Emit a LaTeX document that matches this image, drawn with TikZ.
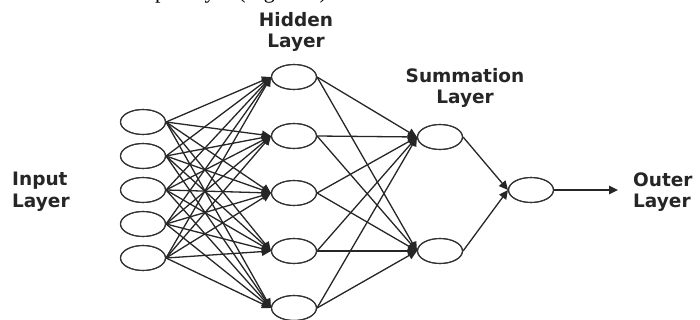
\documentclass[tikz,border=0pt]{standalone}
\usepackage{fontspec}
\setsansfont{DejaVu Sans}
\newfontfamily\capfont{Liberation Serif}
\usetikzlibrary{shapes.geometric,arrows.meta}
\begin{document}
\begin{tikzpicture}[x=1pt,y=-1pt,
  neuron/.style={draw=black!80, line width=1.1pt, ellipse, minimum width=45pt, minimum height=25pt, inner sep=0pt, fill=white},
  conn/.style={draw=black!85, line width=1.3pt, -{Triangle[length=9pt,width=8.5pt]}},
  lbl/.style={font=\sffamily\bfseries\fontsize{18.5}{21.5}\selectfont, text=black!85, align=left, inner sep=0pt},
  lblc/.style={font=\sffamily\bfseries\fontsize{18.5}{21.5}\selectfont, text=black!85, align=center, inner sep=0pt},
  captxt/.style={font=\capfont\fontsize{22}{24}\selectfont, inner sep=0pt, anchor=base west}]
\useasboundingbox (0,0) rectangle (700,320);
\node[captxt] (cap) at (155,-1.5) {put layer (Figure 3)};
% input layer
\foreach \i/\y in {1/122,2/156,3/190,4/224,5/258}
  \node[neuron] (i\i) at (143,\y) {};
% hidden layer
\foreach \i/\y in {1/77,2/136,3/193,4/251,5/308}
  \node[neuron] (h\i) at (294,\y) {};
% summation layer
\node[neuron] (s1) at (440,137) {};
\node[neuron] (s2) at (440,251) {};
% output
\node[neuron] (o) at (531,190) {};
\coordinate (oe) at (618,190);
% connections
\foreach \a in {1,...,5}
  \foreach \b in {1,...,5}
    \draw[conn] (i\a.east) -- (h\b.west);
\foreach \a in {1,...,5}
  \foreach \b in {1,2}
    \draw[conn] (h\a.east) -- (s\b.west);
\draw[conn] (s1.east) -- (o.west);
\draw[conn] (s2.east) -- (o.west);
\draw[conn] (o.east) -- (oe);
% redraw neurons on top
\foreach \n in {i1,i2,i3,i4,i5,h1,h2,h3,h4,h5,s1,s2,o}
  \draw[draw=black!80, line width=1.1pt] (\n.center) ellipse (22.5pt and 12.5pt);
% labels
\node[lblc] (lh) at (296,32) {Hidden\\Layer};
\node[lblc] (ls) at (465,88) {Summation\\Layer};
\node[lbl, anchor=west] (li) at (12,192) {Input\\Layer};
\node[lbl, anchor=west] (lo) at (633,192) {Outer\\Layer};
\end{tikzpicture}
\end{document}
